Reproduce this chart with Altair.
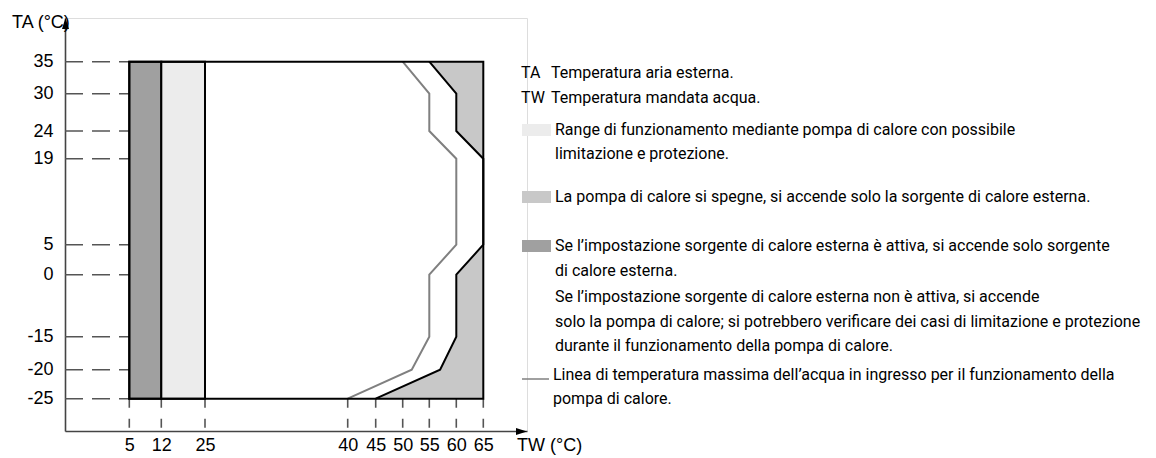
import altair as alt
import pandas as pd

# ---------------- data ----------------
tw_ticks = [5, 12, 25, 40, 45, 50, 55, 60, 65]
ta_ticks = [35, 30, 24, 19, 5, 0, -15, -20, -25]

ta_min, ta_max, tw_max = -25, 35, 65

band_kind = ["ext", "hp"]
band_tw0 = [5, 12]
band_tw1 = [12, 25]

limit_ta = [35, 30, 24, 19, 5, 0, -15, -20, -25]
limit_tw = [55, 60, 60, 65, 65, 60, 60, 57, 45]

inlet_ta = [35, 30, 24, 19, 5, 0, -15, -20, -25]
inlet_tw = [50, 55, 55, 60, 60, 55, 55, 51.7, 40]

abbr = ["TA", "TW"]
abbr_desc = ["Temperatura aria esterna.", "Temperatura mandata acqua."]
legend_lines = [
    "Range di funzionamento mediante pompa di calore con possibile",
    "limitazione e protezione.",
    "La pompa di calore si spegne, si accende solo la sorgente di calore esterna.",
    "Se l\u2019impostazione sorgente di calore esterna è attiva, si accende solo sorgente",
    "di calore esterna.",
    "Se l\u2019impostazione sorgente di calore esterna non è attiva, si accende",
    "solo la pompa di calore; si potrebbero verificare dei casi di limitazione e protezione",
    "durante il funzionamento della pompa di calore.",
    "Linea di temperatura massima dell\u2019acqua in ingresso per il funzionamento della",
    "pompa di calore.",
]

# ---------------- layout / style ----------------
OX, OY = 65, 18            # page position of plot origin
W, H = 462, 413
PADL, PADT = OX - 8, OY - 8
PADR = 1140 - PADL - W
PADB = 24

C_DARK = "#a0a0a0"
C_LIGHT = "#ececec"
C_MID = "#c8c8c8"
C_INLET = "#808080"
FONT = "Liberation Sans"
NARROW = "Liberation Sans Narrow, Roboto, sans-serif"

# piecewise scales (tick values -> measured pixel positions)
x_scale = alt.Scale(
    type="linear",
    domain=[0] + tw_ticks + [75],
    range=[0, 64.3, 96.3, 140, 282.7, 310.7, 337.7, 364.3, 391.3, 418.3, W],
    nice=False, zero=False,
)
y_scale = alt.Scale(
    type="linear",
    domain=[-35] + ta_ticks[::-1] + [45],
    range=[H, 380.7, 351.7, 318.7, 256.7, 226.7, 140.7, 113, 75.7, 43.7, 0],
    nice=False, zero=False,
)

xaxis = alt.Axis(values=tw_ticks, title=None, grid=False, ticks=False, tickSize=0,
                 labelFont=FONT, labelFontSize=18, labelColor="black",
                 labelPadding=5, labelOverlap=False, labelFlush=False,
                 labelExpr="'' + datum.value",
                 domainColor="#444", domainWidth=1.6)
yaxis = alt.Axis(values=ta_ticks, title=None, grid=False, ticks=False, tickSize=0,
                 labelFont=FONT, labelFontSize=18, labelColor="black",
                 labelPadding=12, labelOverlap=False, labelFlush=False,
                 labelExpr="'' + datum.value",
                 domainColor="#444", domainWidth=1.6)

# ---------------- layers ----------------
ta_df = pd.DataFrame({"TA": ta_ticks})
tw_df = pd.DataFrame({"TW": tw_ticks})

hdash = alt.Chart(ta_df).mark_rule(color="#555", strokeWidth=1.6, strokeDash=[18, 9]).encode(
    y=alt.Y("TA:Q", scale=y_scale, axis=yaxis),
    x=alt.datum(0, scale=x_scale, axis=xaxis),
    x2=alt.datum(5),
)

vdash = alt.Chart(tw_df).mark_rule(color="#555", strokeWidth=1.6, strokeDash=[9, 11]).encode(
    x=alt.X("TW:Q", scale=x_scale, axis=xaxis),
    y=alt.datum(ta_min, scale=y_scale),
    y2=alt.value(H),
)

band_df = pd.DataFrame({"kind": band_kind, "tw0": band_tw0, "tw1": band_tw1,
                        "ta0": [ta_min] * 2, "ta1": [ta_max] * 2})
bands = alt.Chart(band_df).mark_rect(stroke="black", strokeWidth=2).encode(
    x=alt.X("tw0:Q", scale=x_scale, axis=xaxis),
    x2="tw1:Q",
    y=alt.Y("ta0:Q", scale=y_scale, axis=yaxis),
    y2="ta1:Q",
    fill=alt.Fill("kind:N", scale=alt.Scale(domain=band_kind, range=[C_DARK, C_LIGHT]), legend=None),
)

# polygon of the "heat pump off" zone: limit line closed along the right frame edge
poly_ta = limit_ta + [ta_min, ta_max]
poly_tw = limit_tw + [tw_max, tw_max]
poly_df = pd.DataFrame({"TA": poly_ta, "TW": poly_tw, "idx": list(range(len(poly_ta)))})
off_zone = alt.Chart(poly_df).mark_line(fill=C_MID, stroke=None, strokeWidth=0,
                                        interpolate="linear-closed").encode(
    x=alt.X("TW:Q", scale=x_scale, axis=xaxis),
    y=alt.Y("TA:Q", scale=y_scale, axis=yaxis),
    order="idx:Q",
)

lim_df = pd.DataFrame({"TA": limit_ta, "TW": limit_tw, "idx": list(range(len(limit_ta)))})
inl_df = pd.DataFrame({"TA": inlet_ta, "TW": inlet_tw, "idx": list(range(len(inlet_ta)))})
inlet_line = alt.Chart(inl_df).mark_line(color=C_INLET, strokeWidth=2).encode(
    x=alt.X("TW:Q", scale=x_scale, axis=xaxis),
    y=alt.Y("TA:Q", scale=y_scale, axis=yaxis),
    order="idx:Q",
)

limit_line = alt.Chart(lim_df).mark_line(color="black", strokeWidth=2).encode(
    x=alt.X("TW:Q", scale=x_scale, axis=xaxis),
    y=alt.Y("TA:Q", scale=y_scale, axis=yaxis),
    order="idx:Q",
)

frame_df = pd.DataFrame({"tw0": [band_tw0[0]], "tw1": [tw_max], "ta0": [ta_min], "ta1": [ta_max]})
frame = alt.Chart(frame_df).mark_rect(fillOpacity=0, stroke="black", strokeWidth=2).encode(
    x=alt.X("tw0:Q", scale=x_scale, axis=xaxis),
    x2="tw1:Q",
    y=alt.Y("ta0:Q", scale=y_scale, axis=yaxis),
    y2="ta1:Q",
)

one = pd.DataFrame({"a": [0]})
arrow_up = alt.Chart(one).mark_point(shape="M0,0L-0.32,1L0.32,1Z", size=484, filled=True,
                                     color="black", opacity=1, strokeWidth=0).encode(
    x=alt.value(0.5), y=alt.value(0))
arrow_right = alt.Chart(one).mark_point(shape="M0,0L-1,-0.32L-1,0.32Z", size=484, filled=True,
                                        color="black", opacity=1, strokeWidth=0).encode(
    x=alt.value(W), y=alt.value(H + 0.5))

ta_title = alt.Chart(one).mark_text(text="TA (°C)", font=FONT, fontSize=18, align="left",
                                    baseline="middle", color="black").encode(
    x=alt.value(12 - OX), y=alt.value(23 - OY))
tw_title = alt.Chart(one).mark_text(text="TW (°C)", font=FONT, fontSize=18, align="left",
                                    baseline="middle", color="black").encode(
    x=alt.value(517 - OX), y=alt.value(446 - OY))

layers = [hdash, vdash, bands, off_zone, inlet_line, limit_line, frame,
          arrow_up, arrow_right, ta_title, tw_title]

# ---------------- legend (text block on the right) ----------------
LFS = 16
def txt(s, x, y):
    return alt.Chart(one).mark_text(text=s, font=NARROW, fontSize=LFS, align="left",
                                    baseline="middle", color="black").encode(
        x=alt.value(x - OX), y=alt.value(y - OY))

abbr_y = [73, 98]
for a, d, yy in zip(abbr, abbr_desc, abbr_y):
    layers.append(txt(a, 521, yy))
    layers.append(txt(d, 551, yy))

line_y = [130, 154, 197, 246, 271, 297, 322, 346, 375, 399]
line_x = [555, 555, 555, 555, 555, 555, 555, 555, 553, 553]
for s, xx, yy in zip(legend_lines, line_x, line_y):
    layers.append(txt(s, xx, yy))

def swatch(color, y0, y1):
    return alt.Chart(one).mark_rect(color=color).encode(
        x=alt.value(522 - OX), x2=alt.value(551 - OX),
        y=alt.value(y0 - OY), y2=alt.value(y1 - OY))

layers.append(swatch(C_LIGHT, 124, 136))
layers.append(swatch(C_MID, 191, 203))
layers.append(swatch(C_DARK, 240, 252))
layers.append(alt.Chart(one).mark_rule(color=C_INLET, strokeWidth=1.5).encode(
    x=alt.value(522 - OX), x2=alt.value(549 - OX), y=alt.value(379 - OY)))

chart = alt.layer(*layers).resolve_scale(fill="independent").properties(
    width=W, height=H,
    autosize=alt.AutoSizeParams(type="none"),
    padding={"left": PADL, "top": PADT, "right": PADR, "bottom": PADB},
).configure_view(stroke=None).configure(background="white")

chart.save("out.html", embed_options={"renderer": "svg", "actions": False})
